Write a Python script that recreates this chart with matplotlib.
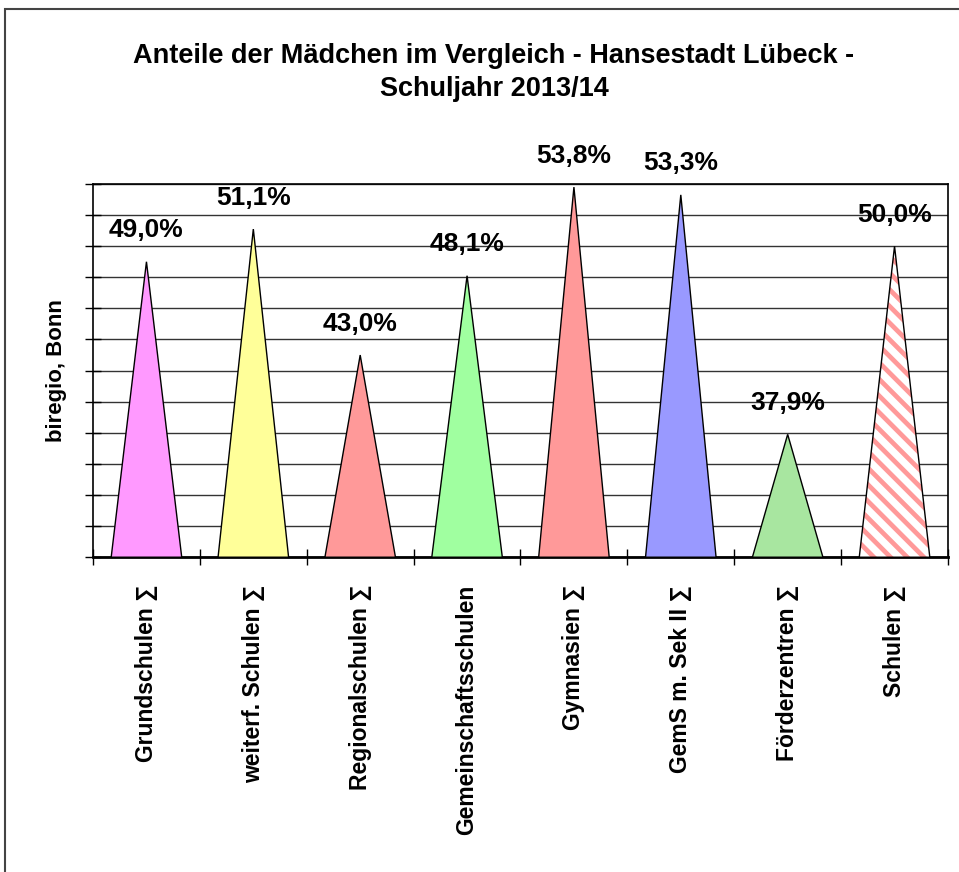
import matplotlib
matplotlib.use("Agg")
from matplotlib import pyplot as plt
from matplotlib.patches import Rectangle

plt.rcParams['font.family'] = ['Liberation Sans', 'DejaVu Sans']
plt.rcParams['font.weight'] = 'bold'
plt.rcParams['hatch.linewidth'] = 3.4

# Daten
kategorien = ['Grundschulen ∑', 'weiterf. Schulen ∑', 'Regionalschulen ∑',
              'Gemeinschaftsschulen', 'Gymnasien ∑', 'GemS m. Sek II ∑',
              'Förderzentren ∑', 'Schulen ∑']
anteile = [49.0, 51.1, 43.0, 48.1, 53.8, 53.3, 37.9, 50.0]
labels = ['49,0%', '51,1%', '43,0%', '48,1%', '53,8%', '53,3%', '37,9%', '50,0%']
farben = ['#FF99FF', '#FFFF99', '#FF9999', '#A0FFA0', '#FF9999', '#9999FF', '#A8E6A0', 'white']

fig = plt.figure(figsize=(9.59, 8.72), dpi=100)
ax = fig.add_axes([0.097, 0.361, 0.8915, 0.428])

ymin, ymax = 30, 54
hw = 0.33  # halbe Breite der Dreiecke

for i, (v, c) in enumerate(zip(anteile, farben)):
    xs = [i - hw, i, i + hw]
    ys = [ymin, v, ymin]
    if i == len(anteile) - 1:
        # schraffiert (rosa Streifen)
        ax.fill(xs, ys, facecolor='white', edgecolor='#FF9999', hatch='\\\\', linewidth=0, zorder=3)
        ax.fill(xs, ys, facecolor='none', edgecolor='black', linewidth=1, zorder=4)
    else:
        ax.fill(xs, ys, facecolor=c, edgecolor='black', linewidth=1, zorder=3)
    ax.annotate(labels[i], (i, v), xytext=(0, 14), textcoords='offset points',
                ha='center', va='bottom', fontsize=19, fontweight='bold')

ax.set_xlim(-0.5, len(anteile) - 0.5)
ax.set_ylim(ymin, ymax)

ax.set_yticks(range(ymin, ymax + 1, 2))
ax.set_yticklabels([])
ax.yaxis.grid(True, color='#333333', linewidth=1)
ax.set_axisbelow(True)
ax.tick_params(axis='y', direction='inout', length=12, width=1)

ax.set_xticks([i - 0.5 for i in range(len(anteile) + 1)])
ax.set_xticklabels([])
ax.set_xticks(range(len(anteile)), minor=True)
ax.set_xticklabels(kategorien, minor=True, rotation=90, fontsize=16.5, fontweight='bold', va='top')
ax.tick_params(axis='x', which='major', direction='inout', length=12, width=1)
ax.tick_params(axis='x', which='minor', length=0, pad=20)

for s in ['left', 'right', 'top']:
    ax.spines[s].set_linewidth(1.2)
ax.spines['bottom'].set_linewidth(2)

ax.set_ylabel('biregio, Bonn', fontsize=16, fontweight='bold', labelpad=9)

fig.text(0.515, 0.917, 'Anteile der Mädchen im Vergleich - Hansestadt Lübeck -\nSchuljahr 2013/14',
         ha='center', va='center', fontsize=19.5, fontweight='bold', linespacing=1.35)

# äußerer Rahmen
fig.patches.append(Rectangle((0.0052, -0.1), 1.2, 1.0897, transform=fig.transFigure,
                             fill=False, edgecolor='#444444', linewidth=1.5))

fig.savefig('out.png', dpi=100)
